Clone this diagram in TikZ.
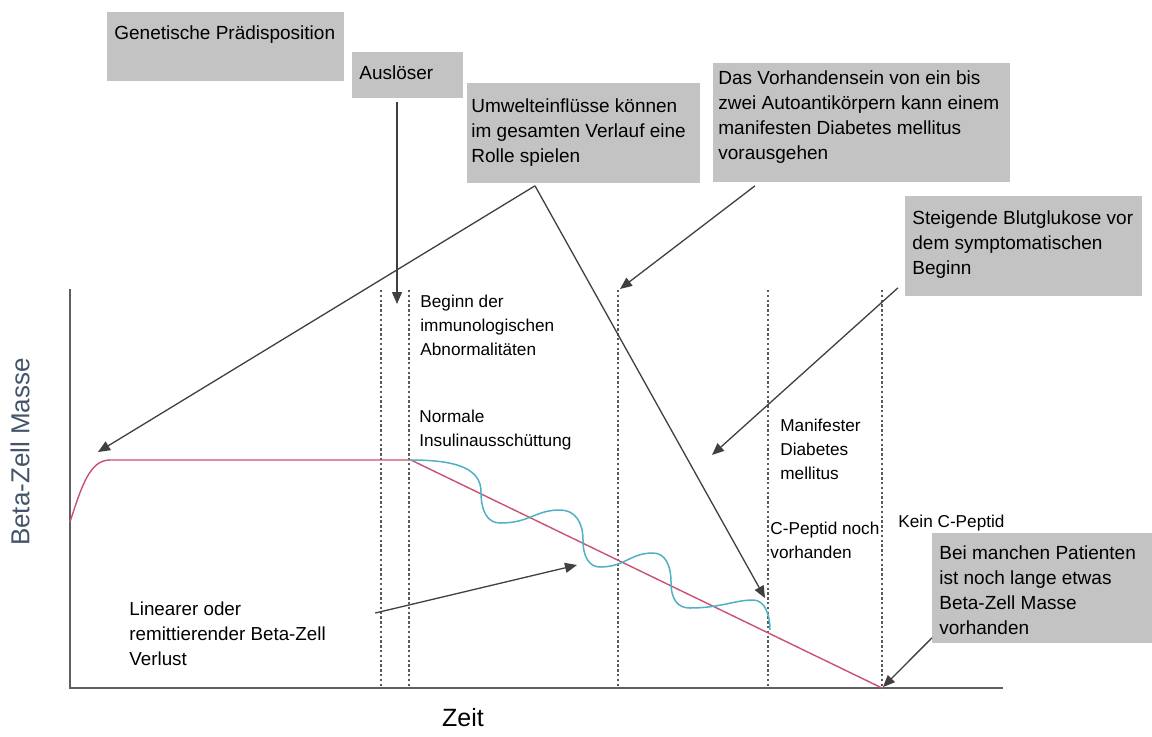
\documentclass[tikz,border=0pt]{standalone}
\usepackage{fontspec}
\setmainfont{Liberation Sans}
\usetikzlibrary{arrows.meta}

\definecolor[named]{boxColor}{RGB}{195,195,195}
\definecolor[named]{arrowColor}{RGB}{64,64,64}
\definecolor[named]{phaseColor}{RGB}{90,90,90}
\definecolor[named]{axisColor}{RGB}{96,96,96}
\definecolor[named]{massColor}{RGB}{200,82,112}
\definecolor[named]{insColor}{RGB}{82,176,196}
\definecolor[named]{labelColor}{RGB}{68,84,106}

\tikzset{
  infobox/.style={fill=boxColor,inner sep=0pt,anchor=north west},
  boxtext/.style={anchor=north west,inner sep=0pt,align=left,font=\fontsize{9.5}{12.5}\selectfont},
  phasetext/.style={anchor=north west,inner sep=0pt,align=left,font=\fontsize{8.6}{11.8}\selectfont},
  pointer/.style={draw=arrowColor,line width=0.65pt,-{Triangle[length=6pt,width=5pt]}},
  phaseline/.style={draw=phaseColor,line width=0.6pt,dash pattern=on 1.2pt off 1.2pt}
}

\begin{document}
\begin{tikzpicture}[x=0.5pt,y=-0.5pt]
\path[use as bounding box,fill=white] (0,0) rectangle (1152,736);

\foreach \px in {381,409,618,768,882}
  \draw[phaseline] (\px,290) -- (\px,688);

\coordinate (origin) at (70,688);
\draw[axisColor,line width=0.75pt] (70,289) -- (origin) -- (1003,688);

\draw[massColor,line width=0.7pt] (70,522) .. controls (82,485) and (90,460) .. (110,460)
  -- (411,460) -- (882,688);
\draw[insColor,line width=0.75pt] (411,460)
  .. controls (460,460) and (481,470) .. (481,492)
  .. controls (481,512) and (488,523) .. (500,523)
  .. controls (530,523) and (535,510) .. (560,510)
  .. controls (575,510) and (583,522) .. (583,540)
  .. controls (583,558) and (590,567) .. (600,567)
  .. controls (625,567) and (630,553) .. (653,553)
  .. controls (665,553) and (671,565) .. (671,582)
  .. controls (671,600) and (678,608) .. (690,608)
  .. controls (720,608) and (735,600) .. (753,600)
  .. controls (765,600) and (770,615) .. (770,630);

\node[phasetext] (beginn) at (420,295) {Beginn der\\immunologischen\\Abnormalitäten};
\node[phasetext] (normal) at (419,410) {Normale\\Insulinausschüttung};
\node[phasetext] (manifest) at (780,419) {Manifester\\Diabetes\\mellitus};
\node[phasetext] (cpeptid) at (770,522) {C-Peptid noch\\vorhanden};
\node[phasetext] (kein) at (898,515) {Kein C-Peptid};
\node[phasetext,font=\fontsize{9.4}{12.5}\selectfont] (verlust) at (129,601) {Linearer oder\\remittierender Beta-Zell\\Verlust};

\node[font=\fontsize{13}{15}\selectfont,text=labelColor,rotate=90] (ylabel) at (20,452) {Beta-Zell Masse};
\node[font=\fontsize{12.5}{15}\selectfont] (xlabel) at (463,718) {Zeit};

\node[infobox,minimum width=118.5pt,minimum height=34.5pt] (gen) at (107,12) {};
\node[boxtext] (gentext) at ([shift={(7,13)}]gen.north west) {Genetische Prädisposition};
\node[infobox,minimum width=55.5pt,minimum height=23pt] (ausl) at (352,52) {};
\node[boxtext] (ausltext) at ([shift={(7,13)}]ausl.north west) {Auslöser};
\node[infobox,minimum width=116.5pt,minimum height=50pt] (umwelt) at (467,83) {};
\node[boxtext] (umwelttext) at ([shift={(4,15)}]umwelt.north west) {Umwelteinflüsse können\\im gesamten Verlauf eine\\Rolle spielen};
\node[infobox,minimum width=148.5pt,minimum height=59.5pt] (vorh) at (713,63) {};
\node[boxtext] (vorhtext) at ([shift={(5,7)}]vorh.north west) {Das Vorhandensein von ein bis\\zwei Autoantikörpern kann einem\\manifesten Diabetes mellitus\\vorausgehen};
\node[infobox,minimum width=118.5pt,minimum height=50pt] (steig) at (905,196) {};
\node[boxtext] (steigtext) at ([shift={(7,14)}]steig.north west) {Steigende Blutglukose vor\\dem symptomatischen\\Beginn};
\node[infobox,minimum width=110pt,minimum height=55pt] (bei) at (932,533) {};
\node[boxtext] (beitext) at ([shift={(7,12)}]bei.north west) {Bei manchen Patienten\\ist noch lange etwas\\Beta-Zell Masse\\vorhanden};

\coordinate (plateau) at (98,452);
\coordinate (lastPeak) at (765,598);
\coordinate (onset) at (397,304);
\coordinate (autoTip) at (620,289);
\coordinate (glucTip) at (712,455);
\coordinate (lossTip) at (577,565);
\coordinate (zeroTip) at (883,687);
\coordinate (umwStart) at ([shift={(68,2)}]umwelt.south west);

\draw[pointer] (umwStart) -- (plateau);
\draw[pointer] (umwStart) -- (lastPeak);
\draw[pointer] ([shift={(45,3)}]ausl.south west) -- (onset);
\draw[pointer] ([shift={(42,3)}]vorh.south west) -- (autoTip);
\draw[pointer] ([shift={(-7,-9)}]steig.south west) -- (glucTip);
\draw[pointer] ([shift={(49,12)}]verlust.north east) -- (lossTip);
\draw[pointer] ([shift={(0,-6)}]bei.south west) -- (zeroTip);
\end{tikzpicture}
\end{document}
